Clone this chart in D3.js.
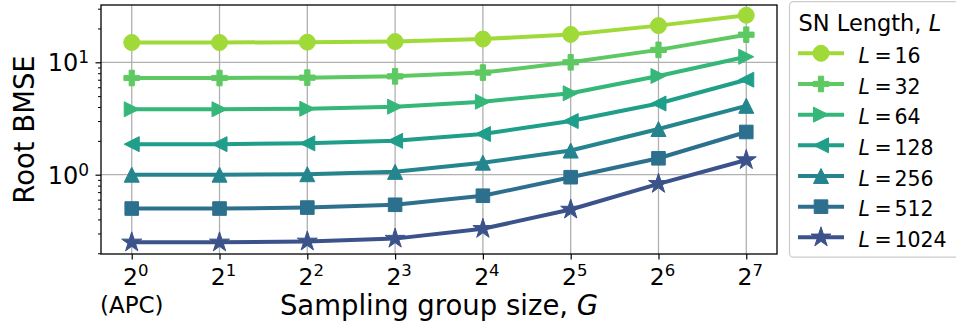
<!DOCTYPE html>
<html>
<head>
<meta charset="utf-8">
<script src="https://cdn.jsdelivr.net/npm/d3@7"></script>
<style>
  body { margin: 0; background: #fff; }
  svg { display: block; }
  text { font-family: "DejaVu Sans", sans-serif; fill: #000; }
</style>
</head>
<body>
<svg id="chart" width="956" height="328"></svg>
<script>
// Sampling group sizes G (powers of two) and their exponents for tick labels
const groupSizes = [1, 2, 4, 8, 16, 32, 64, 128];
const groupExponents = ["0", "1", "2", "3", "4", "5", "6", "7"];

// SN lengths, one series each
const snLengths = [16, 32, 64, 128, 256, 512, 1024];

// Root BMSE per sampling group size
const bmseL16   = [15.0, 15.0, 15.1, 15.3, 16.1, 17.7, 21.2, 26.2];
const bmseL32   = [7.25, 7.25, 7.30, 7.50, 8.10, 10.0, 12.9, 17.6];
const bmseL64   = [3.82, 3.82, 3.86, 4.03, 4.46, 5.30, 7.55, 11.2];
const bmseL128  = [1.87, 1.87, 1.90, 2.00, 2.30, 3.00, 4.30, 7.00];
const bmseL256  = [1.00, 1.00, 1.01, 1.06, 1.28, 1.64, 2.55, 4.10];
const bmseL512  = [0.50, 0.50, 0.51, 0.54, 0.65, 0.95, 1.40, 2.40];
const bmseL1024 = [0.25, 0.25, 0.255, 0.27, 0.33, 0.49, 0.83, 1.35];

// Y tick labels (powers of ten)
const yTickValues = [1, 10];
const yTickExponents = ["0", "1"];

const seriesValues = [bmseL16, bmseL32, bmseL64, bmseL128, bmseL256, bmseL512, bmseL1024];

// Styling
const colors = ["#a0da39", "#5ec962", "#35b779", "#1f9e89", "#25858e", "#2d708e", "#3b528b"];
const markers = ["circle", "plus", "right", "left", "up", "square", "star"];

function markerPath(type) {
  const s = 15, h = s / 2;
  switch (type) {
    case "circle": { const r = 8; return `M${r},0A${r},${r} 0 1 1 ${-r},0A${r},${r} 0 1 1 ${r},0Z`; }
    case "plus": { const a = 7.8, b = 2.6;
      return `M${-b},${-a}L${b},${-a}L${b},${-b}L${a},${-b}L${a},${b}L${b},${b}L${b},${a}L${-b},${a}L${-b},${b}L${-a},${b}L${-a},${-b}L${-b},${-b}Z`; }
    case "right": return `M${h},0L${-h},${-h}L${-h},${h}Z`;
    case "left":  return `M${-h},0L${h},${-h}L${h},${h}Z`;
    case "up":    return `M0,${-h}L${h},${h}L${-h},${h}Z`;
    case "square": { const q = 6.8; return `M${-q},${-q}H${q}V${q}H${-q}Z`; }
    case "star": {
      const R = 10.5, r = R * 0.381966; let d = "";
      for (let i = 0; i < 10; i++) {
        const rad = i % 2 === 0 ? R : r;
        const ang = -Math.PI / 2 + i * Math.PI / 5;
        d += (i === 0 ? "M" : "L") + (rad * Math.cos(ang)).toFixed(2) + "," + (rad * Math.sin(ang)).toFixed(2);
      }
      return d + "Z";
    }
  }
}

const svg = d3.select("#chart");
const plotLeft = 101, plotRight = 777, plotTop = 5, plotBottom = 254;

const x = d3.scaleLog().base(2).domain([Math.pow(2, -0.35), Math.pow(2, 7.35)]).range([plotLeft, plotRight]);
const y = d3.scaleLog().domain([Math.pow(10, -0.7055), Math.pow(10, 1.5098)]).range([plotBottom, plotTop]);

// Grid
const grid = svg.append("g");
grid.selectAll(".gx").data(groupSizes).join("line")
  .attr("x1", d => x(d)).attr("x2", d => x(d)).attr("y1", plotTop).attr("y2", plotBottom)
  .attr("stroke", "#b0b0b0").attr("stroke-width", 1.3);
grid.selectAll(".gy").data(yTickValues).join("line")
  .attr("x1", plotLeft).attr("x2", plotRight).attr("y1", d => y(d)).attr("y2", d => y(d))
  .attr("stroke", "#b0b0b0").attr("stroke-width", 1.3);

// Y axis: major ticks at decades, minor ticks in between
const yAxis = d3.axisLeft(y).tickValues(yTickValues).tickSize(5.5).tickFormat("");
const gy = svg.append("g").attr("transform", `translate(${plotLeft},0)`).call(yAxis);
gy.select(".domain").remove();
gy.selectAll(".tick line").attr("stroke-width", 1.2);
const [yd0, yd1] = y.domain();
const minorY = y.ticks().filter(v => !yTickValues.includes(v) && v >= yd0 && v <= yd1);
svg.append("g").attr("transform", `translate(${plotLeft},0)`)
  .call(d3.axisLeft(y).tickValues(minorY).tickSize(3).tickFormat(""))
  .call(g => g.select(".domain").remove())
  .selectAll(".tick line").attr("stroke-width", 1);

yTickValues.forEach((v, i) => {
  const t = svg.append("text").attr("x", 89).attr("y", y(v) + 9).attr("text-anchor", "end").style("font-size", "24px");
  t.append("tspan").text("10");
  t.append("tspan").attr("dy", -8).style("font-size", "17px").text(yTickExponents[i]);
});

// X axis
const xAxis = d3.axisBottom(x).tickValues(groupSizes).tickSize(5.5).tickFormat("");
const gx = svg.append("g").attr("transform", `translate(0,${plotBottom})`).call(xAxis);
gx.select(".domain").remove();
gx.selectAll(".tick line").attr("stroke-width", 1.2);

groupSizes.forEach((g, i) => {
  const t = svg.append("text").attr("x", x(g) + 4).attr("y", 284.5).attr("text-anchor", "middle").style("font-size", "23.5px");
  t.append("tspan").text("2");
  t.append("tspan").attr("dy", -9).style("font-size", "16.5px").text(groupExponents[i]);
});
svg.append("text").attr("x", x(groupSizes[0])).attr("y", 313).attr("text-anchor", "middle")
  .style("font-size", "23px").text("(APC)");

// Frame
svg.append("rect").attr("x", plotLeft).attr("y", plotTop).attr("width", plotRight - plotLeft).attr("height", plotBottom - plotTop)
  .attr("fill", "none").attr("stroke", "#000").attr("stroke-width", 1.3);

// Axis titles
svg.append("text").attr("transform", `translate(34,${(plotTop + plotBottom) / 2}) rotate(-90)`)
  .attr("text-anchor", "middle").style("font-size", "27.5px").text("Root BMSE");
const xl = svg.append("text").attr("x", (plotLeft + plotRight) / 2).attr("y", 315).attr("text-anchor", "middle").style("font-size", "27.5px");
xl.append("tspan").text("Sampling group size, ");
xl.append("tspan").style("font-style", "italic").text("G");

// Series
const line = d3.line().x(d => x(d[0])).y(d => y(d[1]));
seriesValues.forEach((vals, i) => {
  const pts = groupSizes.map((g, j) => [g, vals[j]]);
  const g = svg.append("g");
  g.append("path").attr("d", line(pts)).attr("fill", "none").attr("stroke", colors[i]).attr("stroke-width", 4)
    .attr("stroke-linejoin", "round");
  g.selectAll("path.m").data(pts).join("path").attr("class", "m")
    .attr("transform", d => `translate(${x(d[0])},${y(d[1])})`)
    .attr("d", markerPath(markers[i])).attr("fill", colors[i]).attr("stroke", colors[i]).attr("stroke-width", 1);
});

// Legend
const lg = svg.append("g");
lg.append("rect").attr("x", 789.5).attr("y", 1.7).attr("width", 200).attr("height", 255.5).attr("rx", 4)
  .attr("fill", "#fff").attr("fill-opacity", 0.8).attr("stroke", "#cccccc").attr("stroke-width", 1.2);
const lt = lg.append("text").attr("x", 798.5).attr("y", 30.5).style("font-size", "22.5px");
lt.append("tspan").text("SN Length, ");
lt.append("tspan").style("font-style", "italic").text("L");
snLengths.forEach((L, i) => {
  const cy = 53.3 + i * 30.67;
  lg.append("line").attr("x1", 798).attr("x2", 844).attr("y1", cy).attr("y2", cy)
    .attr("stroke", colors[i]).attr("stroke-width", 4);
  lg.append("path").attr("transform", `translate(821,${cy})`).attr("d", markerPath(markers[i]))
    .attr("fill", colors[i]).attr("stroke", colors[i]).attr("stroke-width", 1);
  const t = lg.append("text").attr("y", cy + 9.8).style("font-size", "20.5px");
  t.append("tspan").attr("x", 858.5).style("font-style", "italic").text("L");
  t.append("tspan").attr("x", 874.6).text("=");
  t.append("tspan").attr("x", 894.4).text(L);
});
</script>
</body>
</html>
